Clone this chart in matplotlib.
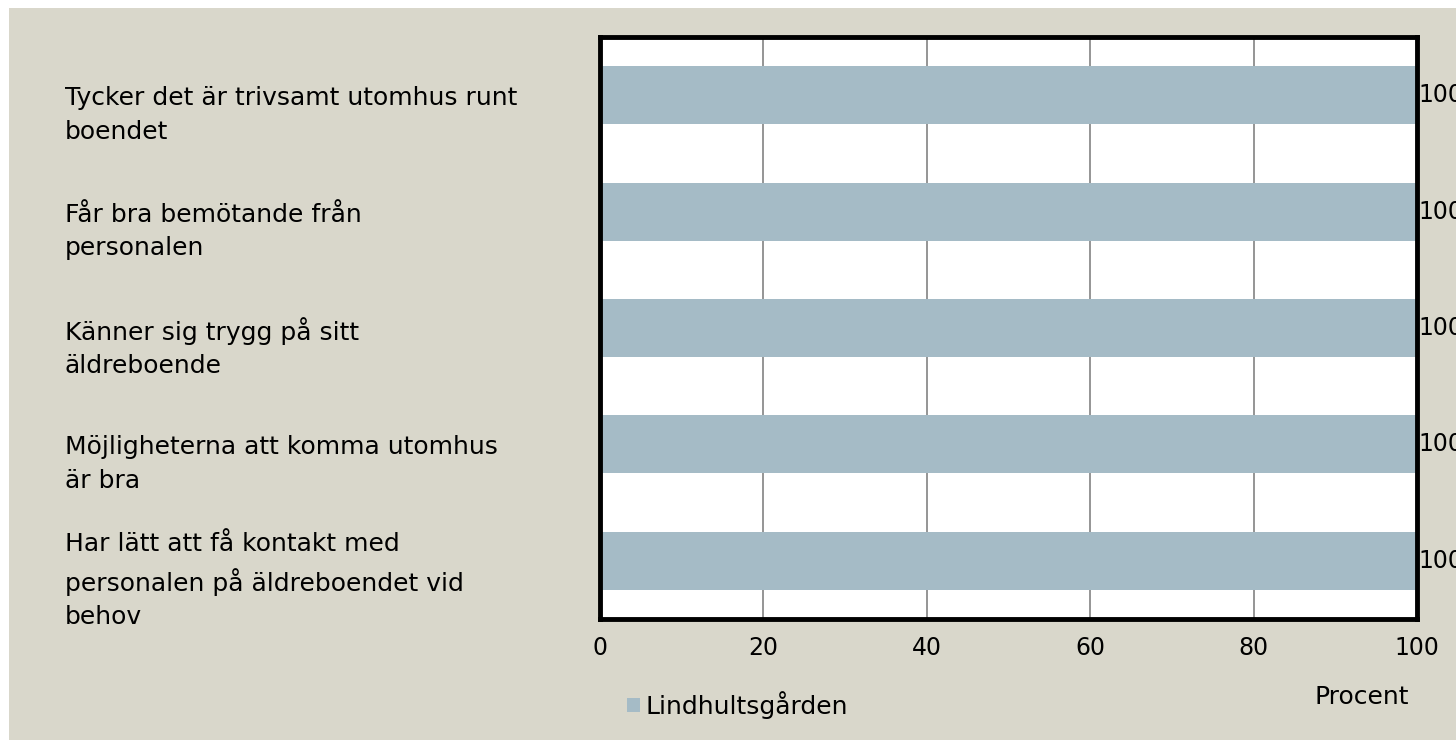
import matplotlib.pyplot as plt
from matplotlib.patches import Rectangle, Patch
from matplotlib.transforms import blended_transform_factory

# data
questions = [
    "Tycker det är trivsamt utomhus runt\nboendet",
    "Får bra bemötande från\npersonalen",
    "Känner sig trygg på sitt\näldreboende",
    "Möjligheterna att komma utomhus\när bra",
    "Har lätt att få kontakt med\npersonalen på äldreboendet vid\nbehov",
]
values = [100, 100, 100, 100, 100]
series_name = "Lindhultsgården"
xticks = [0, 20, 40, 60, 80, 100]

bg = "#D9D7CB"
bar_color = "#A5BBC6"
fs = 17

plt.rcParams['font.family'] = ['DejaVu Sans']

W, H = 1456, 740
fig = plt.figure(figsize=(W / 100, H / 100), dpi=100)
fig.patch.set_facecolor("white")
# beige panel with a thin white margin top and left
fig.patches.append(Rectangle((9 / W, 0), 1, 1 - 8 / H, transform=fig.transFigure,
                             facecolor=bg, edgecolor="none", zorder=-10))

ax = fig.add_axes([600 / W, 1 - 619 / H, (1417 - 600) / W, (619 - 37) / H])
ax.set_facecolor("white")

ypos = list(range(len(questions)))
ax.barh(ypos, values, height=0.5, color=bar_color, zorder=2)
ax.set_xlim(0, 100)
ax.set_ylim(len(questions) - 0.5, -0.5)
ax.set_xticks(xticks)
ax.set_xticklabels([str(t) for t in xticks], fontsize=fs)
ax.set_yticks([])
ax.tick_params(axis='x', length=0, pad=12)
ax.grid(axis='x', color="#8C8C8C", linewidth=1.3, zorder=1)
for s in ax.spines.values():
    s.set_linewidth(3.5)
    s.set_color("black")
    s.set_zorder(3)

# category labels, left-aligned in the left margin
trans = blended_transform_factory(fig.transFigure, ax.transData)
for i, q in enumerate(questions):
    ax.text(65 / W, i + 0.17, q, transform=trans,
            ha='left', va='center', fontsize=18, linespacing=1.5)

# value labels (run off the right edge like the original)
for i, v in enumerate(values):
    ax.text(v + 0.2, i, str(v), ha='left', va='center', fontsize=fs, clip_on=False)

fig.text(1362 / W, 1 - 697 / H, "Procent", ha='center', va='center', fontsize=18)

leg = fig.legend(handles=[Patch(facecolor=bar_color, label=series_name)],
                 loc='center left', bbox_to_anchor=(627 / W, 1 - 705 / H),
                 frameon=False, fontsize=18, handlelength=0.5, handleheight=0.5,
                 handletextpad=0.25, borderpad=0, borderaxespad=0)

fig.savefig("out.png", dpi=100, facecolor=fig.get_facecolor())
